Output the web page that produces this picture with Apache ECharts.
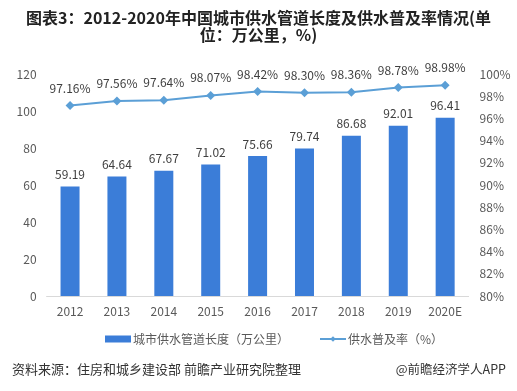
<!DOCTYPE html>
<html><head><meta charset="utf-8">
<script src="https://cdn.jsdelivr.net/npm/echarts@6/dist/echarts.min.js"></script>
<style>html,body{margin:0;padding:0;background:#fff}#c{width:517px;height:391px}</style>
</head><body><div id="c"></div>
<script>
const categories = ['2012','2013','2014','2015','2016','2017','2018','2019','2020E'];
const pipeLength = [59.19,64.64,67.67,71.02,75.66,79.74,86.68,92.01,96.41];
const coverageRate = [97.16,97.56,97.64,98.07,98.42,98.30,98.36,98.78,98.98];
const leftTicks = {min:0,max:120,interval:20};
const rightTicks = {min:80,max:100,interval:2};

const FONT = '"Noto Sans CJK SC", "Noto Sans", sans-serif';
const titleStyle = {fontSize:16,fontWeight:'bold',color:'#222',fontFamily:FONT};
const chart = echarts.init(document.getElementById('c'), null, {renderer:'canvas'});
chart.setOption({
  animation:false,
  backgroundColor:'#fff',
  textStyle:{fontFamily:FONT},
  title:[{
    text:'图表3：2012-2020年中国城市供水管道长度及供水普及率情况(单',
    left:'center', top:10, padding:0, textStyle:titleStyle
  },{
    text:'位：万公里，%)',
    left:'center', top:27, padding:0, textStyle:titleStyle
  },{
    text:'资料来源：住房和城乡建设部 前瞻产业研究院整理',
    left:7, top:358,
    textStyle:{fontSize:13,fontWeight:'normal',color:'#333',fontFamily:FONT}
  },{
    text:'@前瞻经济学人APP',
    right:6, top:358,
    textStyle:{fontSize:12.5,fontWeight:'normal',color:'#333',fontFamily:FONT}
  }],
  legend:{
    left:100, top:328, itemGap:30,
    itemWidth:26, itemHeight:7,
    textStyle:{fontSize:12,color:'#595959',padding:[0,0,0,-3]},
    data:[{name:'城市供水管道长度（万公里）',icon:'rect'},{name:'供水普及率（%）'}]
  },
  grid:{left:46.6,right:48.4,top:74,bottom:95},
  xAxis:{
    type:'category', data:categories,
    axisLine:{lineStyle:{color:'#d9d9d9'}},
    axisTick:{show:false},
    axisLabel:{color:'#595959',fontSize:12,margin:9}
  },
  yAxis:[{
    type:'value', min:leftTicks.min, max:leftTicks.max, interval:leftTicks.interval,
    splitLine:{show:false}, axisLine:{show:false}, axisTick:{show:false},
    axisLabel:{color:'#595959',fontSize:12,margin:10}
  },{
    type:'value', min:rightTicks.min, max:rightTicks.max, interval:rightTicks.interval,
    splitLine:{show:false}, axisLine:{show:false}, axisTick:{show:false},
    axisLabel:{color:'#595959',fontSize:12,margin:11,formatter:'{value}%'}
  }],
  series:[{
    name:'城市供水管道长度（万公里）', type:'bar', data:pipeLength, barWidth:19,
    itemStyle:{color:'#3b7dd8'},
    label:{show:true,position:'top',color:'#404040',fontSize:12,distance:6,
      formatter:p=>p.value.toFixed(2)}
  },{
    name:'供水普及率（%）', type:'line', yAxisIndex:1, data:coverageRate,
    symbol:'diamond', symbolSize:9,
    lineStyle:{color:'#5b9fd6',width:2},
    itemStyle:{color:'#5b9fd6'},
    label:{show:true,position:'top',color:'#404040',fontSize:12,distance:7,
      formatter:p=>p.value.toFixed(2)+'%'}
  }]
});
</script></body></html>
